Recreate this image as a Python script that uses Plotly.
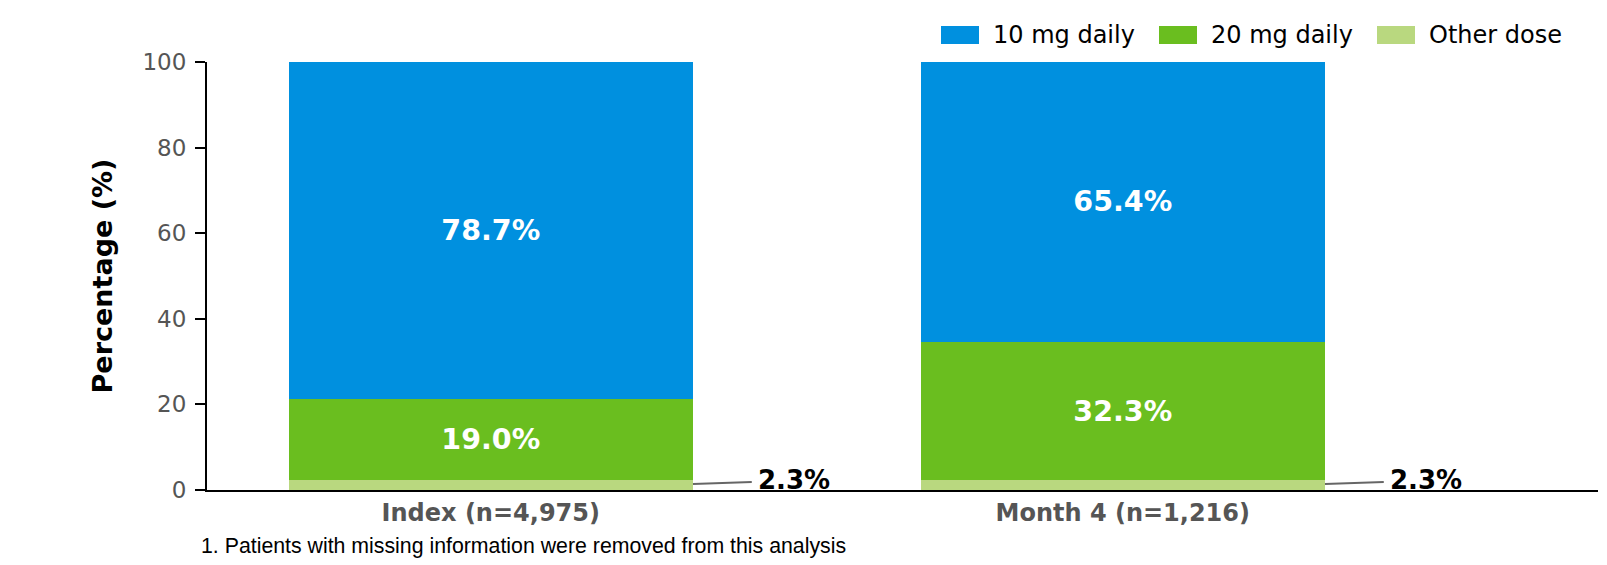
import plotly.graph_objects as go

categories = ["Index (n=4,975)", "Month 4 (n=1,216)"]
series_names = ["10 mg daily", "20 mg daily", "Other dose"]
dose_10mg = [78.7, 65.4]
dose_20mg = [19.0, 32.3]
other_dose = [2.3, 2.3]
y_ticks = [0, 20, 40, 60, 80, 100]
footnote = "1. Patients with missing information were removed from this analysis"

colors = {"10 mg daily": "#0090df", "20 mg daily": "#6abe1f", "Other dose": "#b9d87f"}
xpos = list(range(len(categories)))
BAR_W = 0.64

fig = go.Figure()
# stacked from the bottom: other, 20 mg, 10 mg
for name, vals, show_text in [("Other dose", other_dose, False),
                              ("20 mg daily", dose_20mg, True),
                              ("10 mg daily", dose_10mg, True)]:
    fig.add_trace(go.Bar(
        x=xpos, y=vals, name=name, width=BAR_W,
        marker=dict(color=colors[name], line=dict(width=0)),
        text=[f"{v:.1f}%" for v in vals] if show_text else None,
        textposition="inside" if show_text else "none",
        insidetextanchor="middle",
        textfont=dict(family="DejaVu Sans", size=28.5, color="white", weight="bold"),
        showlegend=False,
        hoverinfo="skip",
    ))

# leader lines and outside labels for the small "Other dose" segments
for i, v in enumerate(other_dose):
    x_edge = xpos[i] + BAR_W / 2
    fig.add_shape(type="line", xref="x", yref="y",
                  x0=x_edge, y0=v * 0.6, x1=x_edge + 0.093, y1=v * 0.8,
                  line=dict(color="#666666", width=2))
    fig.add_annotation(x=x_edge + 0.1, y=v * 1.05, xref="x", yref="y",
                       text=f"<b>{v:.1f}%</b>", showarrow=False,
                       xanchor="left", yanchor="middle",
                       font=dict(family="DejaVu Sans", size=26, color="black"))

# custom legend (wide swatches)
leg_x = [941, 1159, 1377]  # pixel x of swatch left edges
L, T, PW, PH = 207, 62, 1391, 428
def px2paper_x(px):
    return (px - L) / PW
def py2paper_y(py):
    return (T + PH - py) / PH
for name, lx in zip(series_names, leg_x):
    fig.add_shape(type="rect", xref="paper", yref="paper",
                  x0=px2paper_x(lx), x1=px2paper_x(lx + 38),
                  y0=py2paper_y(44), y1=py2paper_y(26),
                  fillcolor=colors[name], line=dict(width=0))
    fig.add_annotation(xref="paper", yref="paper",
                       x=px2paper_x(lx + 50), y=py2paper_y(35),
                       text=name, showarrow=False, xanchor="left", yanchor="middle",
                       font=dict(family="DejaVu Sans", size=24, color="black"))

fig.add_annotation(xref="paper", yref="paper",
                   x=px2paper_x(199), y=py2paper_y(546),
                   text=footnote, showarrow=False, xanchor="left", yanchor="middle",
                   font=dict(family="Liberation Sans", size=21.3, color="black"))

fig.update_layout(
    width=1607, height=565,
    margin=dict(l=L, r=1607 - L - PW, t=T, b=565 - T - PH),
    barmode="stack",
    plot_bgcolor="white", paper_bgcolor="white",
    font=dict(family="DejaVu Sans"),
    xaxis=dict(
        range=[-0.449, 1.752], tickvals=xpos,
        ticktext=[f"<b>{c}</b>" for c in categories],
        tickfont=dict(family="DejaVu Sans", size=24, color="#555555"),
        showline=True, linecolor="black", linewidth=2,
        ticks="", showgrid=False, zeroline=False, fixedrange=True,
    ),
    yaxis=dict(
        range=[0, 100], tickvals=y_ticks,
        tickfont=dict(family="DejaVu Sans", size=23, color="#555555"),
        showline=True, linecolor="black", linewidth=2,
        ticks="outside", ticklen=10, tickwidth=2, tickcolor="black",
        ticklabelstandoff=4,
        showgrid=False, zeroline=False,
        title=dict(text="<b>Percentage (%)</b>", standoff=22,
                   font=dict(family="DejaVu Sans", size=27, color="black")),
    ),
)

fig.write_html("out.html")
